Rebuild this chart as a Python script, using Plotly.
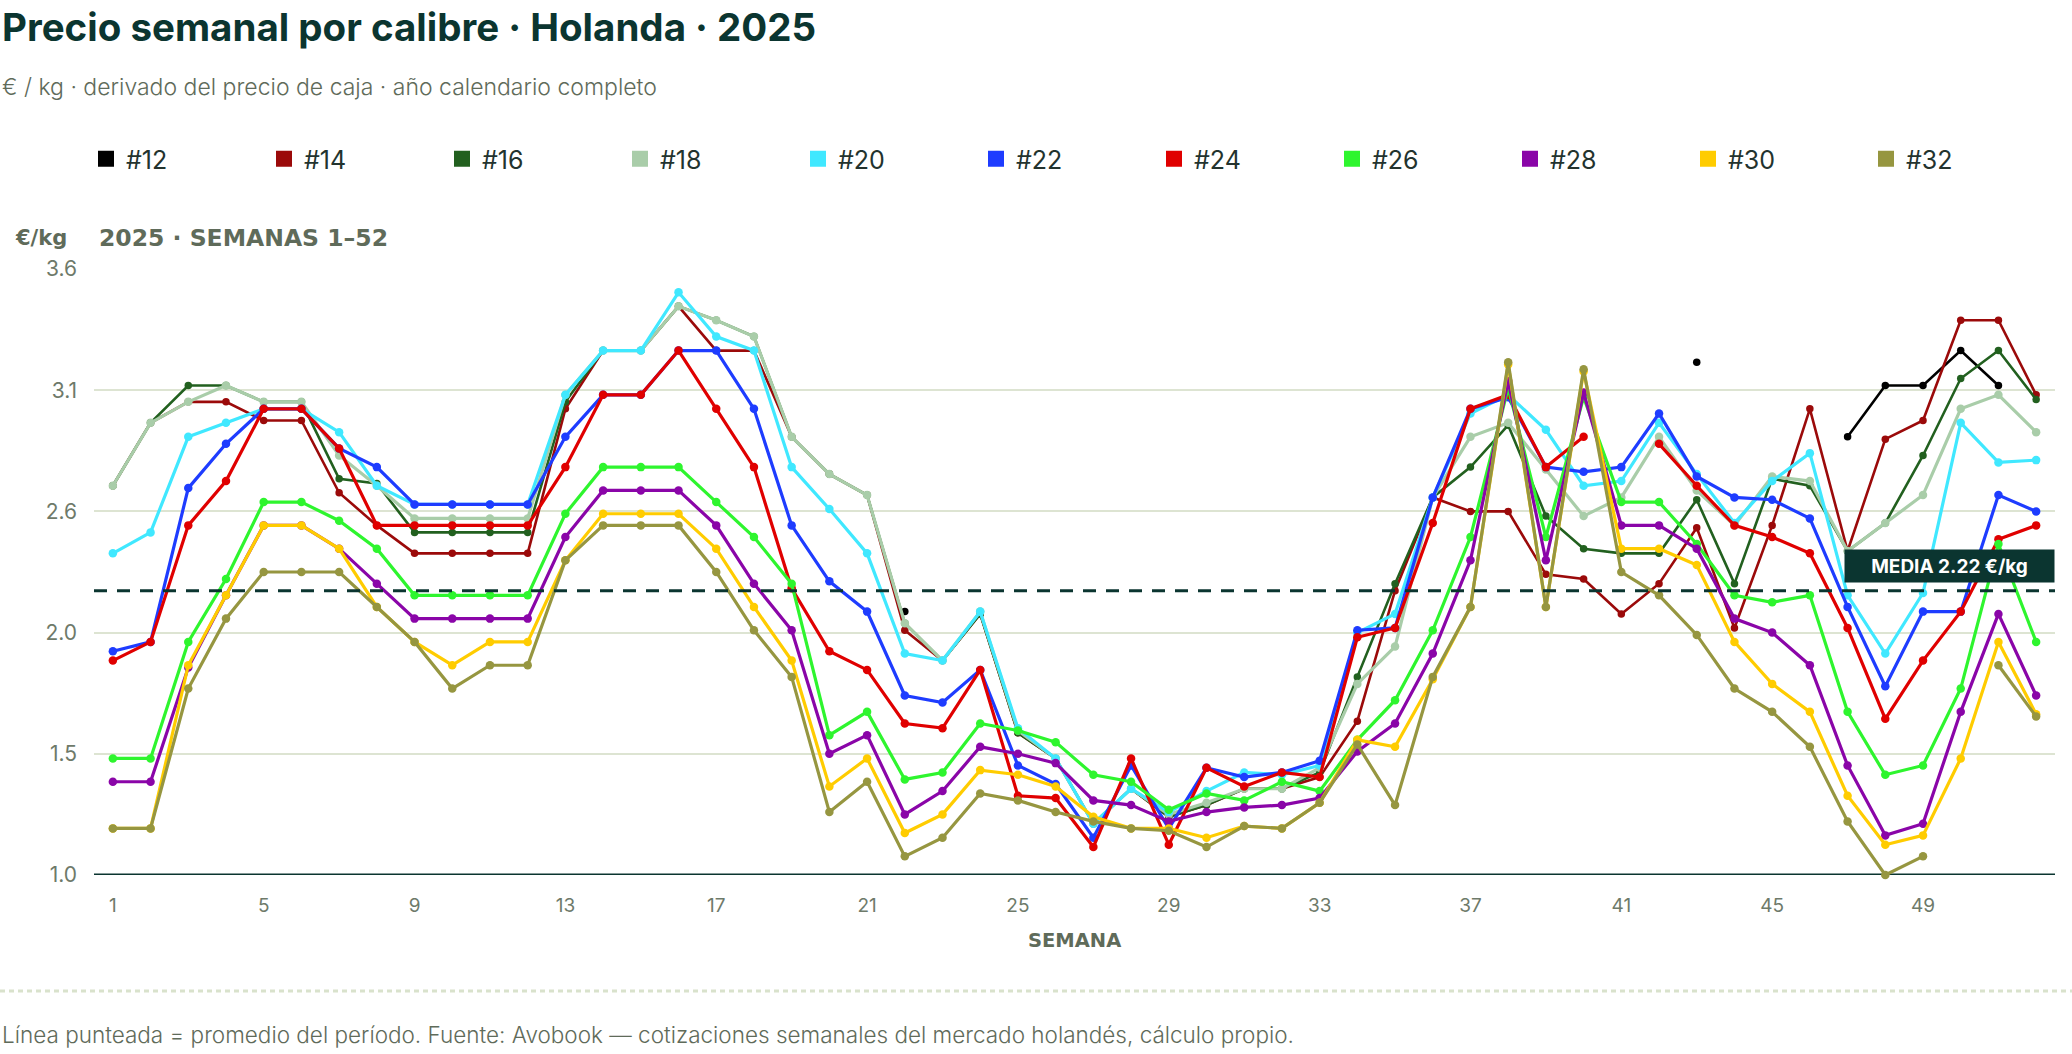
import plotly.graph_objects as go

# weekly price per caliber, Netherlands 2025 (EUR/kg)
weeks = list(range(1, 53))

calibres = ["#12", "#14", "#16", "#18", "#20", "#22", "#24", "#26", "#28", "#30", "#32"]

p12 = [None, None, None, None, None, None, None, None, None, None, None, None, None,
       None, None, None, None, None, None, None, None, 2.13, None, None, None, None,
       None, None, None, None, None, None, None, None, None, None, None, None, None,
       None, None, None, 3.20, None, None, None, 2.88, 3.10, 3.10, 3.25, 3.10, None]
p14 = [2.67, 2.94, 3.03, 3.03, 2.95, 2.95, 2.64, 2.50, 2.38, 2.38, 2.38, 2.38, 3.00,
       3.25, 3.25, 3.44, 3.25, 3.25, 2.88, 2.72, 2.63, 2.05, 1.92, 2.12, 1.61, 1.50,
       1.22, 1.37, 1.25, 1.30, 1.37, 1.37, 1.42, 1.66, 2.22, 2.62, 2.56, 2.56, 2.29,
       2.27, 2.12, 2.25, 2.49, 2.06, 2.50, 3.00, 2.39, 2.87, 2.95, 3.38, 3.38, 3.06]
p16 = [2.67, 2.94, 3.10, 3.10, 3.03, 3.03, 2.70, 2.68, 2.47, 2.47, 2.47, 2.47, 3.03,
       3.25, 3.25, 3.44, 3.38, 3.31, 2.88, 2.72, 2.63, 2.08, 1.92, 2.12, 1.61, 1.50,
       1.22, 1.37, 1.25, 1.30, 1.37, 1.37, 1.44, 1.85, 2.25, 2.62, 2.75, 2.93, 2.54,
       2.40, 2.38, 2.38, 2.61, 2.25, 2.70, 2.67, 2.39, 2.51, 2.80, 3.13, 3.25, 3.04]
p18 = [2.67, 2.94, 3.03, 3.10, 3.03, 3.03, 2.80, 2.67, 2.53, 2.53, 2.53, 2.53, 3.06,
       3.25, 3.25, 3.44, 3.38, 3.31, 2.88, 2.72, 2.63, 2.08, 1.92, 2.13, 1.62, 1.50,
       1.22, 1.37, 1.26, 1.31, 1.37, 1.37, 1.46, 1.82, 1.98, 2.62, 2.88, 2.94, 2.74,
       2.54, 2.62, 2.88, 2.65, 2.50, 2.71, 2.69, 2.39, 2.51, 2.63, 3.00, 3.06, 2.90]
p20 = [2.38, 2.47, 2.88, 2.94, 3.00, 3.00, 2.90, 2.67, 2.59, 2.59, 2.59, 2.59, 3.06,
       3.25, 3.25, 3.50, 3.31, 3.25, 2.75, 2.57, 2.38, 1.95, 1.92, 2.13, 1.63, 1.50,
       1.22, 1.37, 1.27, 1.36, 1.44, 1.43, 1.47, 2.04, 2.12, 2.62, 2.98, 3.06, 2.91,
       2.67, 2.69, 2.94, 2.72, 2.51, 2.69, 2.81, 2.20, 1.95, 2.21, 2.94, 2.77, 2.78]
p22 = [1.96, 2.00, 2.66, 2.85, 3.00, 3.00, 2.83, 2.75, 2.59, 2.59, 2.59, 2.59, 2.88,
       3.06, 3.06, 3.25, 3.25, 3.00, 2.50, 2.26, 2.13, 1.77, 1.74, 1.88, 1.47, 1.39,
       1.16, 1.47, 1.20, 1.46, 1.42, 1.44, 1.49, 2.05, 2.06, 2.62, 3.00, 3.05, 2.75,
       2.73, 2.75, 2.98, 2.71, 2.62, 2.61, 2.53, 2.15, 1.81, 2.13, 2.13, 2.63, 2.56]
p24 = [1.92, 2.00, 2.50, 2.69, 3.00, 3.00, 2.83, 2.50, 2.50, 2.50, 2.50, 2.50, 2.75,
       3.06, 3.06, 3.25, 3.00, 2.75, 2.23, 1.96, 1.88, 1.65, 1.63, 1.88, 1.34, 1.33,
       1.12, 1.50, 1.13, 1.46, 1.38, 1.44, 1.42, 2.02, 2.06, 2.51, 3.00, 3.06, 2.75,
       2.88, None, 2.85, 2.67, 2.50, 2.45, 2.38, 2.06, 1.67, 1.92, 2.13, 2.44, 2.50]
p26 = [1.50, 1.50, 2.00, 2.27, 2.60, 2.60, 2.52, 2.40, 2.20, 2.20, 2.20, 2.20, 2.55,
       2.75, 2.75, 2.75, 2.60, 2.45, 2.25, 1.60, 1.70, 1.41, 1.44, 1.65, 1.62, 1.57,
       1.43, 1.40, 1.28, 1.35, 1.32, 1.40, 1.36, 1.58, 1.75, 2.05, 2.45, 3.09, 2.45,
       3.05, 2.60, 2.60, 2.42, 2.20, 2.17, 2.20, 1.70, 1.43, 1.47, 1.80, 2.42, 2.00]
p28 = [1.40, 1.40, 1.89, 2.20, 2.50, 2.50, 2.40, 2.25, 2.10, 2.10, 2.10, 2.10, 2.45,
       2.65, 2.65, 2.65, 2.50, 2.25, 2.05, 1.52, 1.60, 1.26, 1.36, 1.55, 1.52, 1.48,
       1.32, 1.30, 1.23, 1.27, 1.29, 1.30, 1.33, 1.53, 1.65, 1.95, 2.35, 3.12, 2.35,
       3.07, 2.50, 2.50, 2.40, 2.10, 2.04, 1.90, 1.47, 1.17, 1.22, 1.70, 2.12, 1.77]
p30 = [1.20, 1.20, 1.90, 2.20, 2.50, 2.50, 2.40, 2.15, 2.00, 1.90, 2.00, 2.00, 2.35,
       2.55, 2.55, 2.55, 2.40, 2.15, 1.92, 1.38, 1.50, 1.18, 1.26, 1.45, 1.43, 1.38,
       1.25, 1.20, 1.20, 1.16, 1.21, 1.20, 1.31, 1.58, 1.55, 1.84, 2.15, 3.19, 2.15,
       3.16, 2.40, 2.40, 2.33, 2.00, 1.82, 1.70, 1.34, 1.13, 1.17, 1.50, 2.00, 1.69]
p32 = [1.20, 1.20, 1.80, 2.10, 2.30, 2.30, 2.30, 2.15, 2.00, 1.80, 1.90, 1.90, 2.35,
       2.50, 2.50, 2.50, 2.30, 2.05, 1.85, 1.27, 1.40, 1.08, 1.16, 1.35, 1.32, 1.27,
       1.23, 1.20, 1.19, 1.12, 1.21, 1.20, 1.31, 1.56, 1.30, 1.85, 2.15, 3.20, 2.15,
       3.17, 2.30, 2.20, 2.03, 1.80, 1.70, 1.55, 1.23, 1.00, 1.08, None, 1.90, 1.68]

series = [p12, p14, p16, p18, p20, p22, p24, p26, p28, p30, p32]
colors = ["#000000", "#9b0a0a", "#22601f", "#a9cda9", "#40e8ff", "#1e3cff",
          "#e00000", "#2ef52e", "#8a05a8", "#ffcc00", "#969640"]

media = 2.22
y_ticks = [1.0, 1.52, 2.04, 2.56, 3.08, 3.6]
y_labels = ["1.0", "1.5", "2.0", "2.6", "3.1", "3.6"]
x_ticks = list(range(1, 53, 4))

# page geometry (px)
W, H = 2072, 1054
L, R, T, B = 94, 17, 269, 179
PW, PH = W - L - R, H - T - B

def px_x(px):
    return (px - L) / PW

def px_y(py):
    return (H - B - py) / PH

DARK = "#0b3530"
GREY = "#5f6b5a"

fig = go.Figure()

for name, vals, col in zip(calibres, series, colors):
    thin = col in ("#000000", "#9b0a0a", "#22601f")
    fig.add_trace(go.Scatter(
        x=weeks, y=vals, mode="lines+markers", name=name,
        line=dict(color=col, width=2.6 if thin else 3.2),
        marker=dict(color=col, size=7.5 if thin else 8.5),
        showlegend=False, cliponaxis=False, hoverinfo="skip"))

# legend swatches only
for name, col in zip(calibres, colors):
    fig.add_trace(go.Scatter(
        x=[None], y=[None], mode="markers", name=name,
        marker=dict(color=col, size=16, symbol="square")))

fig.add_shape(type="line", xref="paper", yref="y", x0=0, x1=1, y0=media, y1=media,
              line=dict(color=DARK, width=3, dash="13px,10px"))
fig.add_shape(type="line", xref="paper", yref="paper", x0=px_x(0), x1=px_x(W),
              y0=px_y(991), y1=px_y(991),
              line=dict(color="#d9e2cc", width=3, dash="5px,4px"))

ann = [
    dict(text="<b>Precio semanal por calibre · Holanda · 2025</b>", x=px_x(0), y=px_y(27),
         font=dict(size=38.5, color=DARK, family="Inter", weight=800)),
    dict(text="€ / kg · derivado del precio de caja · año calendario completo",
         x=px_x(0), y=px_y(87), font=dict(size=23, color=GREY, family="Inter", weight=300)),
    dict(text="<b>€/kg</b>", x=px_x(13), y=px_y(238),
         font=dict(size=21, color=GREY, family="DejaVu Sans")),
    dict(text="<b>2025 · SEMANAS 1–52</b>", x=px_x(97), y=px_y(238),
         font=dict(size=23.5, color=GREY, family="DejaVu Sans")),
    dict(text="<b>SEMANA</b>", x=0.5, y=px_y(940), xanchor="center",
         font=dict(size=19.5, color=GREY, family="DejaVu Sans")),
    dict(text="Línea punteada = promedio del período. Fuente: Avobook — cotizaciones semanales "
              "del mercado holandés, cálculo propio.",
         x=px_x(0), y=px_y(1034), font=dict(size=22.5, color=GREY, family="Inter", weight=300)),
]
for a in ann:
    a.setdefault("xanchor", "left")
    fig.add_annotation(xref="paper", yref="paper", yanchor="middle", showarrow=False, **a)

fig.add_annotation(text="<b>MEDIA 2.22 €/kg</b>", xref="paper", yref="paper",
                   x=1, y=px_y(566), xanchor="right", yanchor="middle", showarrow=False,
                   width=205, height=28, align="center", bgcolor=DARK, borderpad=2,
                   font=dict(size=19, color="#ffffff", family="Inter"))

fig.update_layout(
    width=W, height=H,
    margin=dict(l=L, r=R, t=T, b=B),
    paper_bgcolor="#ffffff", plot_bgcolor="#ffffff",
    font=dict(family="Inter", color=GREY),
    showlegend=True,
    legend=dict(orientation="h", xref="container", yref="container",
                x=86 / W, y=1 - 159 / H, xanchor="left", yanchor="middle",
                entrywidth=133, entrywidthmode="pixels",
                font=dict(size=25, color="#23332e", family="Inter"),
                bgcolor="rgba(0,0,0,0)", itemclick=False, itemdoubleclick=False),
    xaxis=dict(range=[0.5, 52.5], tickvals=x_ticks, showgrid=False, zeroline=False,
               showline=False, ticks="", ticklabelstandoff=17,
               tickfont=dict(size=19, color="#6e7a6a", family="Inter")),
    yaxis=dict(range=[1.0, 3.6], tickvals=y_ticks, ticktext=y_labels, showgrid=True,
               gridcolor="#dde4d2", gridwidth=2, zeroline=False, showline=False, ticks="",
               ticklabelstandoff=16,
               tickfont=dict(size=21, color="#6e7a6a", family="Inter")),
)

fig.add_shape(type="line", xref="paper", yref="y", x0=0, x1=1, y0=1.0, y1=1.0,
              line=dict(color=DARK, width=3), layer="below")

fig.write_html("out.html", config={"displayModeBar": False},
               post_script="document.body.style.margin='0';")
